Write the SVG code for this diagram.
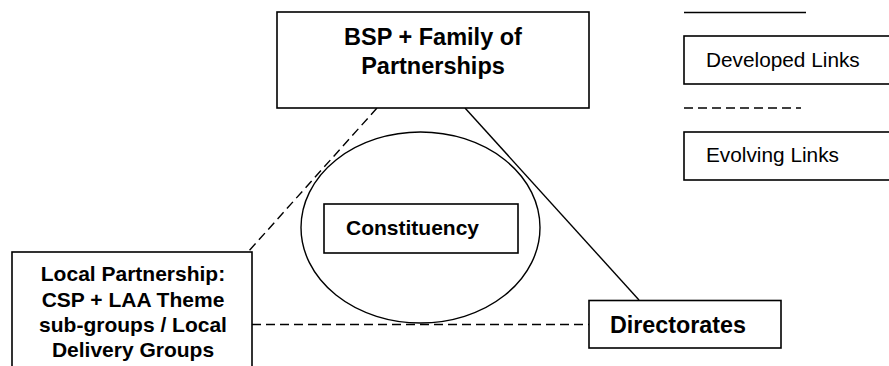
<svg xmlns="http://www.w3.org/2000/svg" width="889" height="366" viewBox="0 0 889 366">
<style>
.box{fill:#fff;stroke:#000;stroke-width:1.6}
.ln{fill:none;stroke:#000;stroke-width:1.4}
.dash{stroke-dasharray:9 5}
.b{font-family:"Liberation Sans",Arial,sans-serif;font-weight:bold;fill:#000}
.r{font-family:"Liberation Sans",Arial,sans-serif;font-size:20.8px;fill:#000}
</style>
<rect width="889" height="366" fill="#fff"/>
<g id="connectors">
<line class="ln dash" x1="377" y1="108" x2="248" y2="252"/>
<line class="ln" x1="465" y1="108" x2="639" y2="300"/>
<line class="ln dash" x1="252" y1="324.5" x2="589" y2="324.5"/>
</g>
<g id="bsp">
<rect class="box" x="277" y="12" width="312" height="96"/>
<text class="b" font-size="23.5" text-anchor="middle" x="433" y="45">BSP + Family of</text>
<text class="b" font-size="23.5" text-anchor="middle" x="433" y="74">Partnerships</text>
</g>
<g id="constituency-ellipse">
<ellipse class="ln" cx="420.5" cy="227.5" rx="119.5" ry="95.5"/>
</g>
<g id="constituency">
<rect class="box" x="324" y="204" width="194" height="49"/>
<text class="b" font-size="21" x="346" y="235">Constituency</text>
</g>
<g id="local">
<rect class="box" x="12" y="252" width="240" height="130"/>
<text class="b" font-size="21" text-anchor="middle" x="133" y="281">Local Partnership:</text>
<text class="b" font-size="21" text-anchor="middle" x="133" y="307">CSP + LAA Theme</text>
<text class="b" font-size="21" text-anchor="middle" x="133" y="332">sub-groups / Local</text>
<text class="b" font-size="21" text-anchor="middle" x="133" y="357">Delivery Groups</text>
</g>
<g id="directorates">
<rect class="box" x="589" y="300.5" width="192" height="47.5"/>
<text class="b" font-size="23.3" x="610" y="333">Directorates</text>
</g>
<g id="legend">
<line class="ln" x1="684" y1="12.5" x2="806" y2="12.5"/>
<rect class="box" x="684" y="36" width="220" height="48"/>
<text class="r" x="706" y="67">Developed Links</text>
<line class="ln dash" x1="684" y1="108" x2="801" y2="108"/>
<rect class="box" x="684" y="132" width="220" height="48"/>
<text class="r" x="706" y="162">Evolving Links</text>
</g>
</svg>
